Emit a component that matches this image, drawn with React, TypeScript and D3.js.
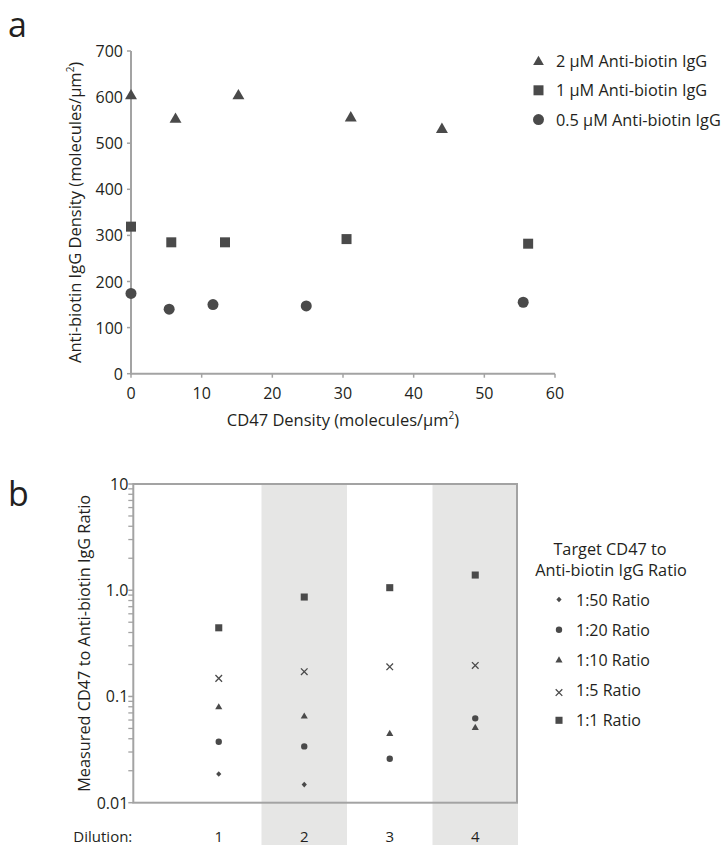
import React from "react";
import * as d3 from "d3";

// Panel a: IgG density vs CD47 density for three IgG concentrations
const cd47Tri = [0, 6.3, 15.2, 31.1, 44.0];
const iggTri = [605, 554, 605, 557, 532];
const cd47Sq = [0, 5.7, 13.3, 30.5, 56.2];
const iggSq = [319, 285, 285, 292, 282];
const cd47Circ = [0, 5.4, 11.6, 24.8, 55.5];
const iggCirc = [174, 140, 150, 147, 155];
const seriesA = ["2 μM Anti-biotin IgG", "1 μM Anti-biotin IgG", "0.5 μM Anti-biotin IgG"];
const xTicksA = [0, 10, 20, 30, 40, 50, 60];
const yTicksA = [0, 100, 200, 300, 400, 500, 600, 700];

// Panel b: measured ratio per dilution for each target ratio
const dilutions = [1, 2, 3, 4];
const ratio1to50 = [0.0186, 0.0148, null, null];
const ratio1to20 = [0.0375, 0.0339, 0.0259, 0.0622];
const ratio1to10 = [0.08, 0.0654, 0.0449, 0.0512];
const ratio1to5 = [0.148, 0.171, 0.19, 0.196];
const ratio1to1 = [0.443, 0.863, 1.057, 1.39];
const seriesB = ["1:50 Ratio", "1:20 Ratio", "1:10 Ratio", "1:5 Ratio", "1:1 Ratio"];
const yTicksB = [10, 1, 0.1, 0.01];
const yTickLabelsB = ["10", "1.0", "0.1", "0.01"];

const FONT = "'Open Sans', sans-serif";
const INK = "#231f20";
const MARK = "#4a4a4a";
const AXIS = "#a3a3a3";
const BAND = "#e6e6e5";

function sym(type: d3.SymbolType, size: number) {
  return d3.symbol().type(type).size(size)() as string;
}

function crossPath(h: number) {
  return `M${-h},${-h}L${h},${h}M${-h},${h}L${h},${-h}`;
}

function Marker({ kind, x, y, big }: { kind: string; x: number; y: number; big: boolean }) {
  const t = `translate(${x},${y})`;
  if (kind === "x")
    return <path d={crossPath(big ? 4 : 3.3)} transform={t} stroke={MARK} strokeWidth={1.3} fill="none" />;
  if (kind === "tri")
    return <path d={sym(d3.symbolTriangle, big ? 62 : 22)} transform={`translate(${x},${y + (big ? 1 : 0.5)})`} fill={MARK} />;
  if (kind === "sq") return <path d={sym(d3.symbolSquare, big ? 100 : 50)} transform={t} fill={MARK} />;
  if (kind === "circ") return <path d={sym(d3.symbolCircle, big ? 95 : 32)} transform={t} fill={MARK} />;
  return <path d="M0,-2.8L2.6,0L0,2.8L-2.6,0Z" transform={t} fill={MARK} />;
}

export default function App() {
  // ---------- panel a scales
  const xa = d3.scaleLinear().domain([0, 60]).range([131, 555]);
  const ya = d3.scaleLinear().domain([0, 700]).range([373.7, 51]);
  const ptsA = [
    { kind: "tri", xs: cd47Tri, ys: iggTri },
    { kind: "sq", xs: cd47Sq, ys: iggSq },
    { kind: "circ", xs: cd47Circ, ys: iggCirc },
  ];

  // ---------- panel b scales
  const xb = d3.scaleBand<number>().domain(dilutions).range([176, 518]).padding(0);
  const yb = d3.scaleLog().domain([0.01, 10]).range([802.7, 484]);
  const frameL = 133.3;
  const frameR = 517;
  const rowsB = [
    { kind: "dia", vals: ratio1to50 },
    { kind: "circ", vals: ratio1to20 },
    { kind: "tri", vals: ratio1to10 },
    { kind: "x", vals: ratio1to5 },
    { kind: "sq", vals: ratio1to1 },
  ];
  const minorB: number[] = [];
  for (const dec of [0.01, 0.1, 1]) for (let k = 2; k <= 9; k++) minorB.push(dec * k);

  return (
    <svg width={724} height={845} style={{ position: "absolute", left: 0, top: 0 }} fontFamily={FONT}>
      <rect width={724} height={845} fill="#fff" />

      {/* ===== panel a ===== */}
      <text x={8} y={37} fontSize={34} fill={INK}>a</text>
      <line x1={xa(0)} x2={xa(60)} y1={ya(0)} y2={ya(0)} stroke={AXIS} strokeWidth={2} />
      <line x1={xa(0)} x2={xa(0)} y1={ya(0) + 1} y2={ya(700)} stroke={AXIS} strokeWidth={2} />
      {xTicksA.map((t) => (
        <g key={"xa" + t}>
          <line x1={xa(t)} x2={xa(t)} y1={ya(0)} y2={ya(0) + 4} stroke={AXIS} strokeWidth={1.5} />
          <text x={xa(t)} y={ya(0) + 25} fontSize={16} textAnchor="middle" fill={INK}>{t}</text>
        </g>
      ))}
      {yTicksA.map((t) => (
        <g key={"ya" + t}>
          <line x1={xa(0) - 4} x2={xa(0)} y1={ya(t)} y2={ya(t)} stroke={AXIS} strokeWidth={1.5} />
          <text x={xa(0) - 8} y={ya(t) + 6} fontSize={16} textAnchor="end" fill={INK}>{t}</text>
        </g>
      ))}
      <text x={(xa(0) + xa(60)) / 2} y={426} fontSize={16.5} textAnchor="middle" fill={INK}>
        CD47 Density (molecules/μm<tspan dy={-7} fontSize={10}>2</tspan><tspan dy={7}>)</tspan>
      </text>
      <text transform={`translate(81,${(ya(0) + ya(700)) / 2}) rotate(-90)`} fontSize={16.5} textAnchor="middle" fill={INK}>
        Anti-biotin IgG Density (molecules/μm<tspan dy={-7} fontSize={10}>2</tspan><tspan dy={7}>)</tspan>
      </text>
      {ptsA.map((s) =>
        s.xs.map((xv, i) => <Marker key={s.kind + i} kind={s.kind} x={xa(xv)} y={ya(s.ys[i])} big={true} />)
      )}
      {seriesA.map((name, i) => (
        <g key={name} transform={`translate(0,${61 + i * 29.3})`}>
          {i === 0 ? (
            <path d={sym(d3.symbolTriangle, 50)} transform="translate(538.5,1)" fill={MARK} />
          ) : (
            <Marker kind={ptsA[i].kind} x={538.5} y={0} big={true} />
          )}
          <text x={556} y={6} fontSize={16.3} fill={INK}>{name}</text>
        </g>
      ))}

      {/* ===== panel b ===== */}
      <text x={8} y={506} fontSize={34} fill={INK}>b</text>
      {dilutions.filter((d) => d % 2 === 0).map((d) => (
        <rect key={"band" + d} x={xb(d)} y={484} width={xb.bandwidth()} height={845 - 484} fill={BAND} />
      ))}
      <rect x={frameL} y={484} width={frameR - frameL} height={802.7 - 484} fill="none" stroke={AXIS} strokeWidth={2} />
      {minorB.map((v) => (
        <line key={"mb" + v} x1={frameL - 5} x2={frameL} y1={yb(v)} y2={yb(v)} stroke={AXIS} strokeWidth={1.3} />
      ))}
      {yTicksB.map((v, i) => (
        <g key={"yb" + v}>
          <line x1={frameL - 5} x2={frameL} y1={yb(v)} y2={yb(v)} stroke={AXIS} strokeWidth={1.5} />
          <text x={frameL - 5} y={yb(v) + 6} fontSize={16} textAnchor="end" fill={INK}>{yTickLabelsB[i]}</text>
        </g>
      ))}
      {dilutions.map((d) => (
        <text key={"xl" + d} x={(xb(d) as number) + xb.bandwidth() / 2} y={842} fontSize={15} textAnchor="middle" fill={INK}>{d}</text>
      ))}
      <text x={frameL - 1} y={842} fontSize={15} textAnchor="end" fill={INK}>Dilution:</text>
      <text transform={`translate(90,${(484 + 802.7) / 2}) rotate(-90)`} fontSize={16.3} textAnchor="middle" fill={INK}>
        Measured CD47 to Anti-biotin IgG Ratio
      </text>
      {rowsB.map((r) =>
        r.vals.map((v, i) =>
          v == null ? null : (
            <Marker key={r.kind + i} kind={r.kind} x={(xb(dilutions[i]) as number) + xb.bandwidth() / 2} y={yb(v)} big={false} />
          )
        )
      )}
      <text x={610} y={555} fontSize={16.3} textAnchor="middle" fill={INK}>Target CD47 to</text>
      <text x={611} y={576} fontSize={16.3} textAnchor="middle" fill={INK}>Anti-biotin IgG Ratio</text>
      {seriesB.map((name, i) => (
        <g key={name} transform={`translate(0,${599.5 + i * 30.2})`}>
          <Marker kind={rowsB[i].kind} x={559} y={rowsB[i].kind === "x" ? 2.5 : 0} big={false} />
          <text x={576} y={6} fontSize={16} fill={INK}>{name}</text>
        </g>
      ))}
    </svg>
  );
}
